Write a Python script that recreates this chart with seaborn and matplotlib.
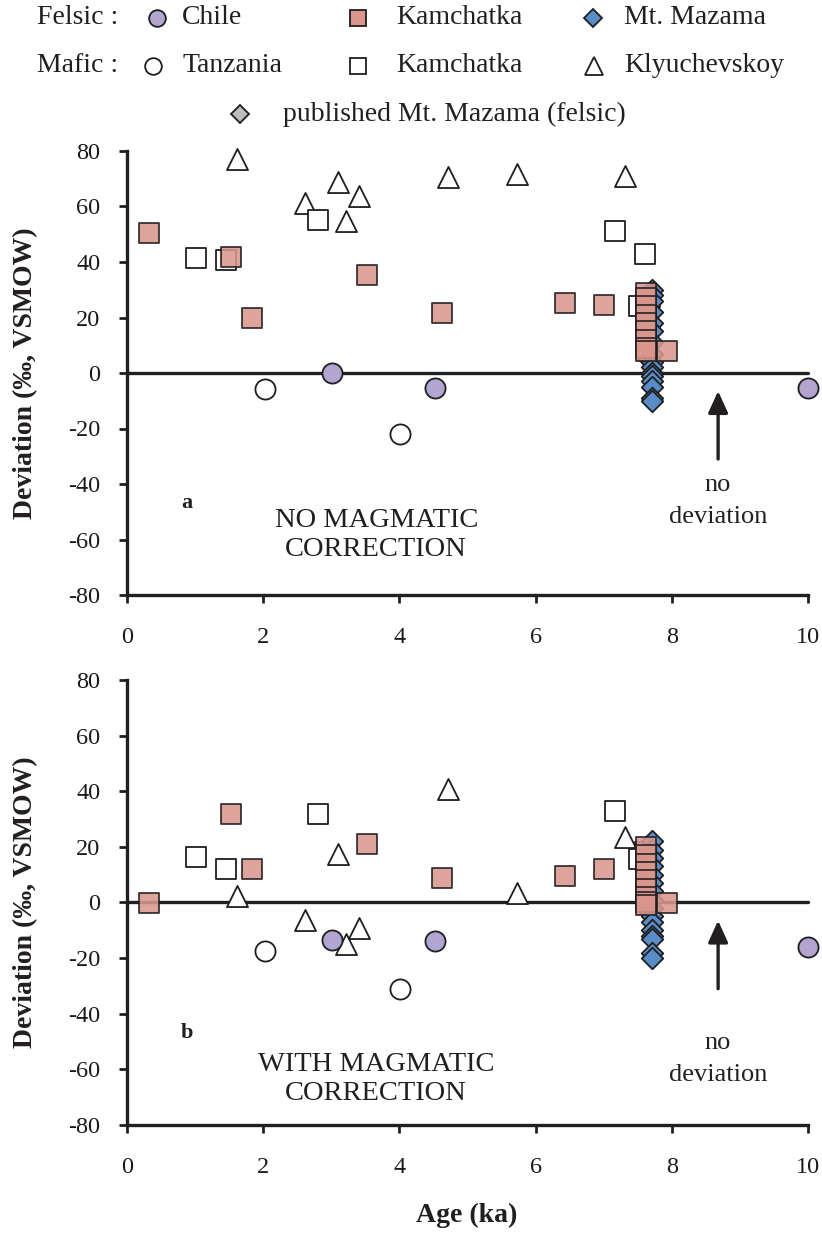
import numpy as np
import pandas as pd
import matplotlib
matplotlib.use("Agg")
import matplotlib.pyplot as plt
import seaborn as sns

sns.set_theme(style="white")
plt.rcParams["font.family"] = ["Liberation Serif", "DejaVu Serif"]

# ---------------- data ----------------
# Felsic, Chile
chile_age = [3.01, 4.52, 10.0]
chile_raw = [0.0, -5.4, -5.4]
chile_corr = [-13.4, -14.0, -16.0]

# Mafic, Tanzania
tanz_age = [2.02, 4.01]
tanz_raw = [-5.8, -21.9]
tanz_corr = [-17.4, -31.2]

# Felsic, Kamchatka
kamf_age = [0.32, 1.52, 1.83, 3.52, 4.62, 6.43, 7.00,
            7.62, 7.62, 7.62, 7.62, 7.62, 7.62, 7.62, 7.62, 7.62, 7.93]
kamf_raw = [50.4, 41.9, 19.8, 35.4, 21.8, 25.2, 24.6,
            29, 27, 24, 21, 18, 15, 12, 9, 8, 8.0]
kamf_corr = [-0.2, 31.9, 12.0, 21.0, 8.8, 9.4, 12.0,
             20, 17, 14, 11, 8, 5, 2, 0, -1, -0.2]

# Mafic, Kamchatka
kamm_age = [1.02, 1.46, 2.80, 7.17, 7.61, 7.52]
kamm_raw = [41.4, 40.8, 55.1, 51.3, 42.9, 24.3]
kamm_corr = [16.5, 12.0, 31.9, 33.0, 18.0, 15.7]

# Mafic, Klyuchevskoy
klyu_age = [1.62, 2.62, 3.10, 3.21, 3.41, 4.71, 5.72, 7.31]
klyu_raw = [77.0, 61.4, 68.9, 54.9, 63.8, 70.7, 71.6, 71.1]
klyu_corr = [2.2, -6.2, 17.5, -14.9, -9.0, 40.8, 3.4, 23.5]

# Felsic, Mt. Mazama (this study)
maz_age = [7.71] * 16
maz_raw = [30, 28, 26, 22, 18, 15, 11, 7, 4, 2, 0, -1, -3, -5, -9, -10]
maz_corr = [22, 19, 16, 13, 10, 7, 4, 1, -2, -5, -7, -10, -12, -13, -18, -20]

# Felsic, published Mt. Mazama
pub_age = [7.66, 7.66, 7.66, 7.66]
pub_raw = [24, 17, 10, 5]
pub_corr = [16, 9, 3, -3]

xticks = [0, 2, 4, 6, 8, 10]
yticks = [-80, -60, -40, -20, 0, 20, 40, 60, 80]

# ---------------- styles ----------------
C_CHILE = "#B3A5D2"
C_KAM = "#DA968C"
C_MAZ = "#5A8DC8"
C_PUB = "#BDBDBD"
EDGE = "#1E1E1E"
INK = "#231F20"

fig = plt.figure(figsize=(8.22, 12.38), dpi=100)
W, H = 822, 1238


def fx(px):
    return px / W


def fy(py):
    return 1 - py / H


ax_a = fig.add_axes([fx(127), fy(595), fx(808) - fx(127), fy(151) - fy(595)])
ax_b = fig.add_axes([fx(127), fy(1125), fx(808) - fx(127), fy(680) - fy(1125)])


def draw_panel(ax, vals, letter, title, no_y, dev_y):
    (chile, tanz, kamf, kamm, klyu, maz, pub) = vals
    ax.axhline(0, color=INK, lw=2.4, zorder=1, clip_on=False)
    common = dict(ax=ax, edgecolor=EDGE, linewidth=1.3, legend=False, clip_on=False)
    sns.scatterplot(x=klyu_age, y=klyu, marker="^", s=230, color="white", zorder=3, **common)
    sns.scatterplot(x=kamm_age, y=kamm, marker="s", s=210, color="white", zorder=3, **common)
    sns.scatterplot(x=tanz_age, y=tanz, marker="o", s=210, color="white", zorder=3, **common)
    sns.scatterplot(x=pub_age, y=pub, marker="D", s=120, color=C_PUB, zorder=4, **common)
    sns.scatterplot(x=maz_age, y=maz, marker="D", s=120, color=C_MAZ, zorder=4, **common)
    sns.scatterplot(x=kamf_age, y=kamf, marker="s", s=210, color=C_KAM, alpha=0.88, zorder=5, **common)
    sns.scatterplot(x=chile_age, y=chile, marker="o", s=210, color=C_CHILE, zorder=6, **common)

    ax.set_xlim(0, 10)
    ax.set_ylim(-80, 80)
    ax.set_xticks(xticks)
    ax.set_yticks(yticks)
    ax.set_xticklabels([str(t) for t in xticks])
    ax.set_yticklabels([str(t) for t in yticks])
    ax.tick_params(axis="both", direction="out", length=6, width=2.0, color=INK,
                   labelsize=17.5, labelcolor="#1A1A1A", left=True, bottom=True)
    ax.tick_params(axis="x", pad=17)
    ax.tick_params(axis="y", pad=13)
    for side in ("top", "right"):
        ax.spines[side].set_visible(False)
    for side in ("left", "bottom"):
        ax.spines[side].set_color(INK)
        ax.spines[side].set_linewidth(2.4)
    ax.set_xlabel("")
    ax.set_ylabel("")

    ax.text(0.88, -47, letter, fontsize=16, fontweight="bold", ha="center", va="center", color=INK)
    ax.text(3.66, title[1], title[0], fontsize=20.5, ha="center", va="center",
            linespacing=1.2, color=INK)
    ax.annotate("", xy=(8.68, -6.5), xytext=(8.68, -31),
                arrowprops=dict(arrowstyle="-|>,head_length=1.1,head_width=0.5",
                                color=INK, lw=2.4, shrinkA=0, shrinkB=0))
    ax.text(8.68, no_y, "no", fontsize=19, ha="center", va="center", color=INK)
    ax.text(8.68, dev_y, "deviation", fontsize=19, ha="center", va="center", color=INK)


draw_panel(ax_a, (chile_raw, tanz_raw, kamf_raw, kamm_raw, klyu_raw, maz_raw, pub_raw),
           "a", ("NO MAGMATIC\nCORRECTION", -58.5), -40.5, -52)
draw_panel(ax_b, (chile_corr, tanz_corr, kamf_corr, kamm_corr, klyu_corr, maz_corr, pub_corr),
           "b", ("WITH MAGMATIC\nCORRECTION", -63.5), -50.5, -62)

# axis titles
ylab = "Deviation (‰, VSMOW)"
fig.text(fx(26), fy(373), ylab, rotation=90, ha="center", va="center",
         fontsize=20, fontweight="bold", color=INK)
fig.text(fx(26), fy(902), ylab, rotation=90, ha="center", va="center",
         fontsize=20, fontweight="bold", color=INK)
fig.text(fx(467), fy(1215), "Age (ka)", ha="center", va="center",
         fontsize=20, fontweight="bold", color=INK)

# key at the top
lg = fig.add_axes([0, 0, 1, 1], zorder=10)
lg.set_xlim(0, W)
lg.set_ylim(H, 0)
lg.axis("off")
lg.patch.set_alpha(0)

rows = [
    (18, "Felsic :", [(157, "o", C_CHILE, "Chile", 182),
                      (358, "s", C_KAM, "Kamchatka", 396),
                      (593, "D", C_MAZ, "Mt. Mazama", 624)]),
    (66, "Mafic :", [(153, "o", "white", "Tanzania", 182),
                     (358, "s", "white", "Kamchatka", 396),
                     (594, "^", "white", "Klyuchevskoy", 624)]),
    (114, None, [(240, "D", C_PUB, "published Mt. Mazama (felsic)", 283)]),
]
msize = {"o": 12, "s": 12, "D": 9.5, "^": 12.5}
for y, head, items in rows:
    if head:
        lg.text(37, y, head, fontsize=20, ha="left", va="center", color=INK)
    for mx, mk, col, label, tx in items:
        lg.plot([mx], [y], marker=mk, ms=msize[mk], mfc=col, mec=EDGE, mew=1.3, ls="none")
        lg.text(tx, y, label, fontsize=20, ha="left", va="center", color=INK)

fig.savefig("out.png", dpi=100)
